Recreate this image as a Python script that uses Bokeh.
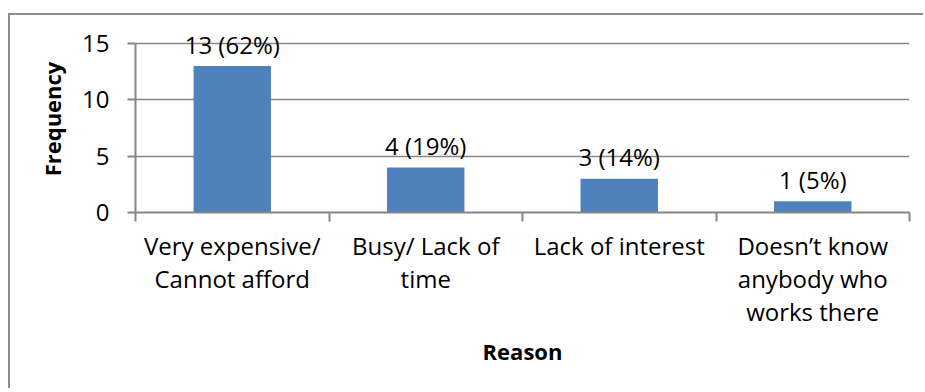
from bokeh.plotting import figure
from bokeh.models import ColumnDataSource, FixedTicker, Range1d, LabelSet
from bokeh.core.properties import value
from bokeh.embed import file_html
from bokeh.resources import INLINE

categories = ["Very expensive/\nCannot afford", "Busy/ Lack of\ntime", "Lack of interest",
              "Doesn\u2019t know\nanybody who\nworks there"]
frequency = [13, 4, 3, 1]
bar_labels = ["13 (62%)", "4 (19%)", "3 (14%)", "1 (5%)"]
y_ticks = [0, 5, 10, 15]

FONT = "Open Sans"
GREY = "#868686"
BLUE = "#4F81BD"

xs = [i + 0.5 for i in range(len(categories))]
src = ColumnDataSource(dict(x=xs, top=frequency, label=bar_labels))

p = figure(width=915, height=375, output_backend="svg", toolbar_location=None,
           x_range=Range1d(0, len(categories)), y_range=Range1d(0, 16.6),
           min_border_left=125, min_border_right=16, min_border_top=10, min_border_bottom=178)
p.margin = (13, 0, 0, 8)
p.styles = {"border-top": "2px solid #8c8c8c", "border-left": "2px solid #8c8c8c"}
p.outline_line_color = None
p.background_fill_color = "white"
p.border_fill_color = "white"

p.vbar(x="x", top="top", width=0.4, bottom=0, source=src, fill_color=BLUE, line_color=None)

labels = LabelSet(x="x", y="top", text="label", source=src, text_align="center",
                  text_baseline="middle", y_offset=22, text_font=value(FONT),
                  text_font_size="24px", text_color="black")
p.add_layout(labels)

# x axis
xa = p.xaxis[0]
xa.ticker = FixedTicker(ticks=xs, minor_ticks=list(range(len(categories) + 1)))
xa.major_label_overrides = {x: c for x, c in zip(xs, categories)}
xa.major_tick_line_color = None
xa.major_tick_out = 0
xa.major_tick_in = 0
xa.minor_tick_line_color = GREY
xa.minor_tick_out = 9
xa.minor_tick_in = 0
xa.axis_line_color = GREY
xa.axis_line_width = 2
xa.minor_tick_line_width = 2
xa.major_label_text_font = FONT
xa.major_label_text_font_size = "24px"
xa.major_label_text_color = "black"
xa.major_label_text_line_height = 1.0
xa.major_label_standoff = 7
xa.axis_label = "Reason"
xa.axis_label_text_font = FONT
xa.axis_label_text_font_style = "bold"
xa.axis_label_text_font_size = "22px"
xa.axis_label_text_color = "black"
xa.axis_label_standoff = 5

# y axis
ya = p.yaxis[0]
ya.ticker = FixedTicker(ticks=y_ticks, minor_ticks=[])
ya.bounds = (0, 15)
ya.major_tick_out = 8
ya.major_tick_in = 0
ya.major_tick_line_color = GREY
ya.major_tick_line_width = 2
ya.axis_line_color = GREY
ya.axis_line_width = 2
ya.major_label_text_font = FONT
ya.major_label_text_font_size = "24px"
ya.major_label_text_color = "black"
ya.major_label_standoff = 18
ya.axis_label = "Frequency"
ya.axis_label_text_font = FONT
ya.axis_label_text_font_style = "bold"
ya.axis_label_text_font_size = "22px"
ya.axis_label_text_color = "black"
ya.axis_label_standoff = 12

p.xgrid.grid_line_color = None
p.ygrid.ticker = FixedTicker(ticks=[5, 10, 15])
p.ygrid.grid_line_color = GREY
p.ygrid.grid_line_width = 1.5

open("out.html", "w").write(file_html(p, INLINE))
